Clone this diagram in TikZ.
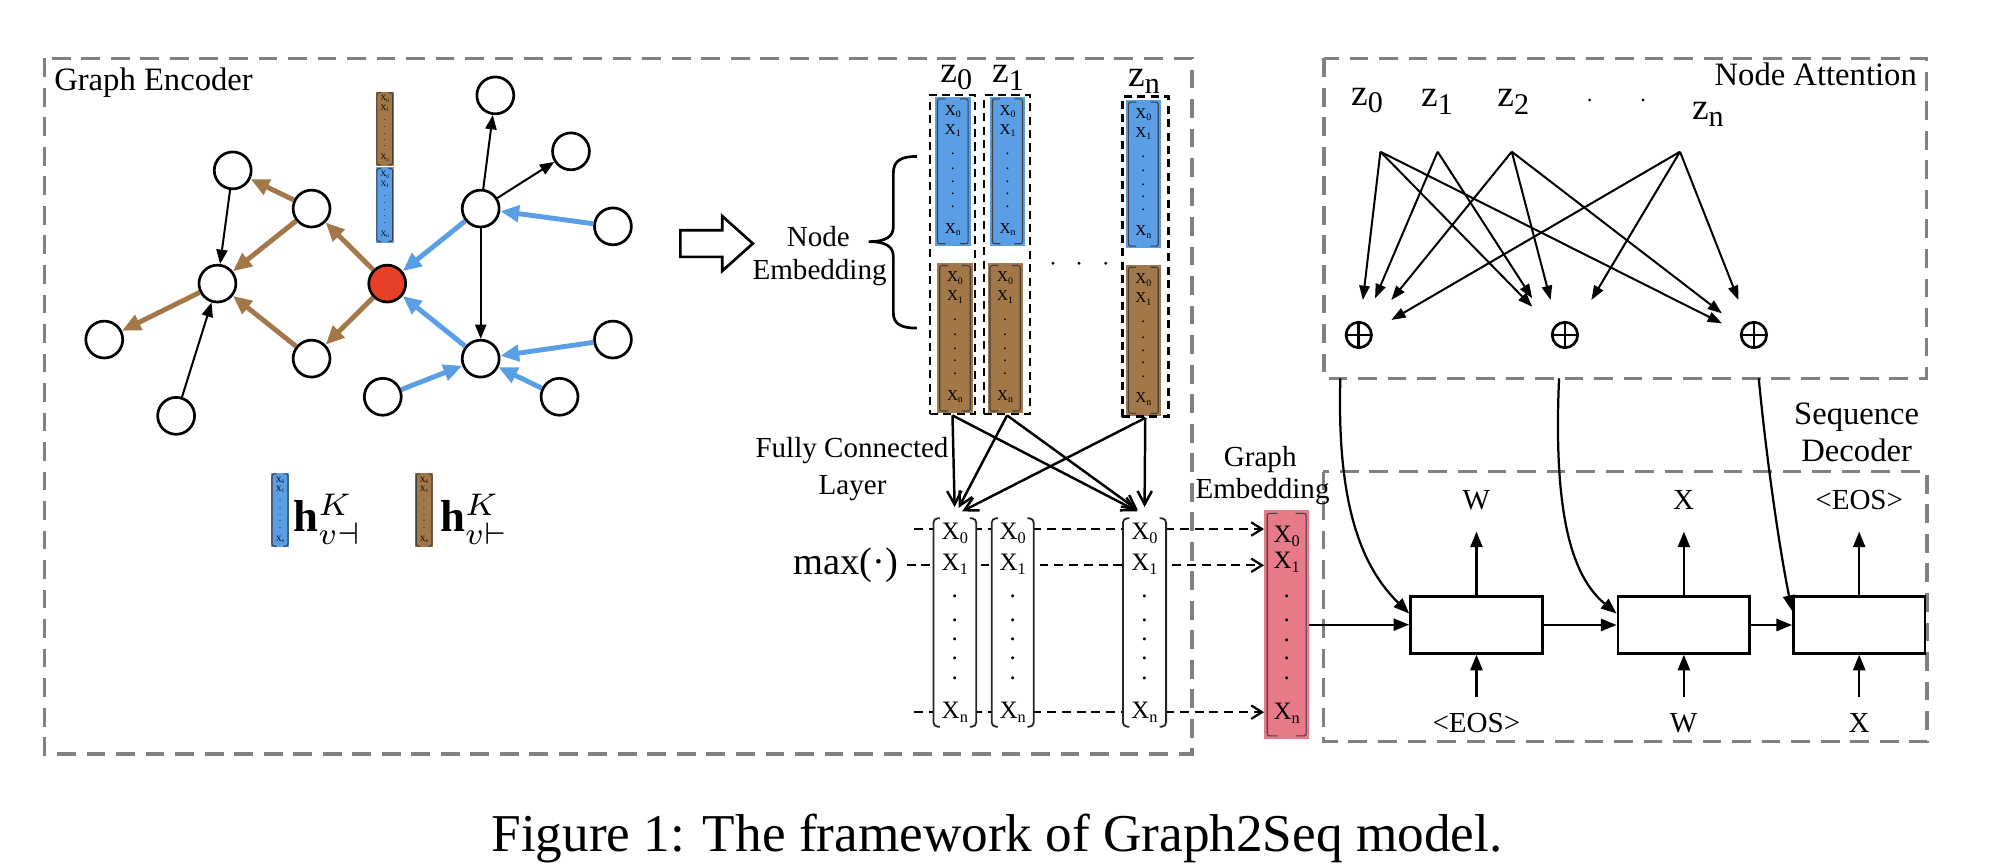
\documentclass[tikz,border=0pt]{standalone}
\usepackage{fontspec}
\setmainfont{Liberation Serif}
\usepackage{graphicx}
\usetikzlibrary{arrows.meta,calc,fit}

\definecolor{blueC}{RGB}{90,158,230}
\definecolor{brownC}{RGB}{163,120,72}
\definecolor{redC}{RGB}{232,64,38}
\definecolor{pinkC}{RGB}{230,123,135}
\definecolor{grayC}{RGB}{128,128,128}

\newcommand{\Xs}[1]{X\raisebox{-0.35ex}{\scalebox{0.65}{#1}}}
\newcommand{\zs}[1]{z\raisebox{-0.45ex}{\scalebox{0.8}{#1}}}
\newcommand{\brin}{0.07}
\newcommand{\brhook}{0.3}
\newcommand{\fracs}{0.1/0,0.225/1,0.89/n}
\newcommand{\dotfracs}{0.38,0.48,0.57,0.65,0.74}

\newcommand{\vecbar}[7]{%
  \node[fit={(#2,#3) (#4,#5)}, inner sep=0pt, outer sep=0pt, fill=#6] (#1) {};
  \pgfmathsetmacro\bw{#4-#2}%
  \pgfmathsetmacro\bh{#5-#3}%
  \pgfmathsetmacro\bx{(#2+#4)/2}%
  \draw[brk] ({#2+\brhook*\bw},{#3+0.015*\bh}) -- ({#2+\brin*\bw},{#3+0.015*\bh}) -- ({#2+\brin*\bw},{#5-0.015*\bh}) -- ({#2+\brhook*\bw},{#5-0.015*\bh});
  \draw[brk] ({#4-\brhook*\bw},{#3+0.015*\bh}) -- ({#4-\brin*\bw},{#3+0.015*\bh}) -- ({#4-\brin*\bw},{#5-0.015*\bh}) -- ({#4-\brhook*\bw},{#5-0.015*\bh});
  \foreach \f/\t in \fracs {\node[font=#7, inner sep=0pt] (#1-\t) at (\bx,{#3+\f*\bh}) {\Xs{\t}};}
  \foreach \f [count=\i] in \dotfracs {\node[font=#7, inner sep=0pt] (#1-d\i) at (\bx,{#3+\f*\bh}) {.};}
}

\begin{document}
\begin{tikzpicture}[x=0.01cm,y=-0.01cm,
  region/.style={draw=grayC, line width=0.75pt, dash pattern=on 4.2pt off 2.4pt},
  lbl/.style={font=\fontsize{7.3}{8}\selectfont, inner sep=0pt},
  sml/.style={font=\fontsize{6.5}{7}\selectfont, inner sep=0pt},
  zl/.style={font=\fontsize{8.4}{9}\selectfont, inner sep=0pt},
  gnode/.style={circle, draw, line width=0.6pt, minimum size=0.29cm, inner sep=0pt, fill=white},
  blk/.style={-{Triangle[length=3.2pt,width=2.5pt]}, line width=0.45pt},
  brn/.style={-{Triangle[length=4.2pt,width=3.6pt]}, draw=brownC, fill=brownC, line width=1.1pt},
  blu/.style={-{Triangle[length=4.2pt,width=3.6pt]}, draw=blueC, fill=blueC, line width=1.1pt},
  brk/.style={line width=0.25pt, draw=black!75, rounded corners=0.5pt},
  colbox/.style={draw, line width=0.6pt, dash pattern=on 1.8pt off 1.2pt, inner sep=0pt},
  fc/.style={-{Straight Barb[length=3pt,width=3.2pt]}, line width=0.55pt},
  dsh/.style={-{Straight Barb[length=2.4pt,width=3pt]}, line width=0.5pt, dash pattern=on 2pt off 1.3pt},
  dec/.style={-{Triangle[length=3.5pt,width=2.7pt]}, line width=0.5pt},
  att/.style={-{Triangle[length=3.2pt,width=2.3pt]}, line width=0.45pt},
  cell/.style={draw, line width=0.6pt, inner sep=0pt, fill=white},
  oplus/.style={circle, draw, line width=0.6pt, minimum size=0.2cm, inner sep=0pt,
    path picture={\draw[line width=0.6pt] (path picture bounding box.north) -- (path picture bounding box.south) (path picture bounding box.west) -- (path picture bounding box.east);}}
]
\useasboundingbox (0,0) rectangle (1568,681);

% ---------- regions ----------
\draw[region] (35,45.9) rectangle (937.2,593);
\draw[region] (1041,45.9) rectangle (1514.8,297.5);
\draw[region] (1040.6,370.9) rectangle (1515.3,583.2);

\node[lbl, anchor=base west] (tGE) at (42,70.8) {Graph Encoder};
\node[lbl, anchor=base east] (tNA) at (1508,67.6) {Node Attention};
\node[lbl, anchor=base] (tSeq) at (1460,334) {Sequence};
\node[lbl, anchor=base] (tDec) at (1460,363) {Decoder};

% ---------- graph ----------
\node[gnode] (gA) at (183,134) {};
\node[gnode] (gB) at (245,164) {};
\node[gnode] (gC) at (171,223) {};
\node[gnode] (gD) at (82,267) {};
\node[gnode] (gE) at (138.5,327) {};
\node[gnode] (gF) at (245,282) {};
\node[gnode, fill=redC] (gR) at (304.5,223) {};
\node[gnode] (gG) at (378,164) {};
\node[gnode] (gH) at (389.5,75) {};
\node[gnode] (gI) at (449,119) {};
\node[gnode] (gJ) at (482,178) {};
\node[gnode] (gK) at (378,282) {};
\node[gnode] (gL) at (482,267) {};
\node[gnode] (gM) at (440,312) {};
\node[gnode] (gN) at (301,312) {};

\draw[brn] (gB) -- (gA);
\draw[brn] (gB) -- (gC);
\draw[brn] (gR) -- (gB);
\draw[brn] (gR) -- (gF);
\draw[brn] (gF) -- (gC);
\draw[brn] (gC) -- (gD);
\draw[blk] (gA) -- (gC);
\draw[blk] (gE) -- (gC);
\draw[blk] (gG) -- (gH);
\draw[blk] (gG) -- (gI);
\draw[blk] (gG) -- (gK);
\draw[blu] (gJ) -- (gG);
\draw[blu] (gG) -- (gR);
\draw[blu] (gK) -- (gR);
\draw[blu] (gL) -- (gK);
\draw[blu] (gN) -- (gK);
\draw[blu] (gM) -- (gK);

\vecbar{gb1}{295.4}{72}{309.8}{130.5}{brownC}{\fontsize{1.8}{2}\selectfont}
\vecbar{gb2}{295.4}{131.6}{309.8}{190.8}{blueC}{\fontsize{1.8}{2}\selectfont}
\vecbar{lg1}{212.9}{371.7}{227.5}{430.4}{blueC}{\fontsize{1.8}{2}\selectfont}
\vecbar{lg2}{326.3}{371.7}{340.7}{430.4}{brownC}{\fontsize{1.8}{2}\selectfont}
\node[anchor=base west, font=\fontsize{10}{11}\selectfont, inner sep=0pt] (hl1) at (230,418) {$\mathbf{h}^{K}_{v\dashv}$};
\node[anchor=base west, font=\fontsize{10}{11}\selectfont, inner sep=0pt] (hl2) at (345.5,418) {$\mathbf{h}^{K}_{v\vdash}$};

% hollow arrow
\draw[line width=0.6pt, fill=white] (535,181) -- (568,181) -- (568,170) -- (592,191.5) -- (568,213) -- (568,202) -- (535,202) -- cycle;

\node[sml, anchor=base] (tNode) at (643.5,194) {Node};
\node[sml, anchor=base] (tEmb) at (644.5,219.6) {Embedding};
\draw[line width=0.6pt] (721,123) .. controls (709,123) and (702.5,126) .. (702.5,136) -- (702.5,178) .. controls (702.5,186) and (697,190) .. (683,190) .. controls (697,190) and (702.5,194) .. (702.5,202) -- (702.5,246) .. controls (702.5,255) and (709,258) .. (721,258);

% ---------- node embedding columns ----------
\vecbar{zb0}{735.2}{76}{763.3}{193.4}{blueC}{\fontsize{3.4}{4}\selectfont}
\vecbar{zr0}{737}{207}{764.9}{325}{brownC}{\fontsize{3.4}{4}\selectfont}
\vecbar{zb1}{778.5}{76}{806}{193.4}{blueC}{\fontsize{3.4}{4}\selectfont}
\vecbar{zr1}{776.6}{207}{804.2}{325}{brownC}{\fontsize{3.4}{4}\selectfont}
\vecbar{zbn}{885.4}{78.6}{912.7}{195.3}{blueC}{\fontsize{3.4}{4}\selectfont}
\vecbar{zrn}{885.4}{208.4}{912.7}{326.9}{brownC}{\fontsize{3.4}{4}\selectfont}
\node[colbox, fit={(731.3,74.7) (766.7,325.6)}] (zc0) {};
\node[colbox, fit={(773.8,74.7) (810,325.6)}] (zc1) {};
\node[colbox, fit={(882.5,76) (918.7,327.6)}] (zcn) {};
\node[zl] (lz0) at (752,61) {\zs{0}};
\node[zl] (lz1) at (792.7,61) {\zs{1}};
\node[zl] (lzn) at (899.6,64) {\zs{n}};
\fill (828,207) circle[radius=0.013cm];
\fill (848.5,207) circle[radius=0.013cm];
\fill (869.5,207) circle[radius=0.013cm];

% ---------- graph embedding ----------
\renewcommand{\fracs}{0.115/0,0.23/1,0.887/n}
\renewcommand{\dotfracs}{0.377,0.48,0.57,0.647,0.734}
\vecbar{pink}{994}{401}{1029.6}{581.4}{pinkC}{\fontsize{5.6}{6}\selectfont}
\node[sml, anchor=base] (tGr) at (991,367) {Graph};
\node[sml, anchor=base] (tGEm) at (992.8,391.9) {Embedding};

% ---------- max pooling ----------
\coordinate (s0) at (719,416);
\coordinate (s1) at (713,444.5);
\coordinate (sn) at (719,560);
\draw[dsh] (s0) -- (s0 -| pink.west);
\draw[dsh] (s1) -- (s1 -| pink.west);
\draw[dsh] (sn) -- (sn -| pink.west);
\renewcommand{\fracs}{0.085/0,0.23/1,0.92/n}
\renewcommand{\dotfracs}{0.38,0.49,0.58,0.667,0.76}
\renewcommand{\brin}{0.0}
\renewcommand{\brhook}{0.15}
\tikzset{brk/.style={line width=0.4pt, draw=black!85, rounded corners=1pt}}
\vecbar{mc1}{734}{405}{767.7}{574}{white}{\fontsize{5.6}{6}\selectfont}
\vecbar{mc2}{779.8}{405}{812.9}{574}{white}{\fontsize{5.6}{6}\selectfont}
\vecbar{mc3}{883}{405}{917}{574}{white}{\fontsize{5.6}{6}\selectfont}
\node[font=\fontsize{8.6}{9}\selectfont, anchor=base east, inner sep=0pt] (tmax) at (707,452) {max(·)};
\node[sml, anchor=base] (tFC1) at (670,359.5) {Fully Connected};
\node[sml, anchor=base] (tFC2) at (670.4,389.2) {Layer};

\draw[fc, shorten >=1.8pt] (zc0.south) -- (mc1.north);
\draw[fc, shorten >=1.8pt] (zc0.south) -- (mc3.north);
\draw[fc, shorten >=1.8pt] (zc1.south) -- (mc1.north);
\draw[fc, shorten >=1.8pt] (zc1.south) -- (mc3.north);
\draw[fc, shorten >=1.8pt] (zcn.south) -- (mc1.north);
\draw[fc, shorten >=1.8pt] (zcn.south) -- (mc3.north);

% ---------- node attention ----------
\node[zl] (nz0) at (1075,79) {\zs{0}};
\node[zl] (nz1) at (1130,80) {\zs{1}};
\node[zl] (nz2) at (1190,80) {\zs{2}};
\node[zl] (nzn) at (1343,90) {\zs{n}};
\fill (1250,78.6) circle[radius=0.012cm];
\fill (1292,78.6) circle[radius=0.012cm];
\coordinate (a0) at (1085.5,119.3);
\coordinate (a1) at (1130.5,119.3);
\coordinate (a2) at (1188.8,119.3);
\coordinate (an) at (1321.1,119.3);
\coordinate (t1) at (1071.7,235.9);
\coordinate (t2) at (1081.3,234.6);
\coordinate (t3) at (1094.1,235.9);
\coordinate (t4) at (1094.1,251.6);
\coordinate (t5) at (1204.9,241.2);
\coordinate (t6) at (1204.9,234.6);
\coordinate (t7) at (1219.3,235.9);
\coordinate (t8) at (1251.4,235.9);
\coordinate (t9) at (1354.1,254.3);
\coordinate (t10) at (1354.1,246.4);
\coordinate (t11) at (1367,235.9);
\draw[att] (a0) -- (t1);
\draw[att] (a0) -- (t5);
\draw[att] (a0) -- (t9);
\draw[att] (a1) -- (t2);
\draw[att] (a1) -- (t6);
\draw[att] (a2) -- (t3);
\draw[att] (a2) -- (t7);
\draw[att] (a2) -- (t10);
\draw[att] (an) -- (t4);
\draw[att] (an) -- (t8);
\draw[att] (an) -- (t11);
\node[oplus] (op1) at (1068.5,263.4) {};
\node[oplus] (op2) at (1230.6,263.4) {};
\node[oplus] (op3) at (1379.2,263.4) {};

% ---------- decoder ----------
\node[cell, fit={(1109.2,469.2) (1212.9,513.7)}] (cell1) {};
\node[cell, fit={(1272.3,469.2) (1376,513.7)}] (cell2) {};
\node[cell, fit={(1410.3,469.2) (1513.7,513.7)}] (cell3) {};
\draw[dec] (pink.east) -- (pink.east -| cell1.west);
\draw[dec] (cell1.east) -- (cell2.west);
\draw[dec] (cell2.east) -- (cell3.west);

\coordinate (yout) at (0,418);
\coordinate (yin) at (0,547.8);
\coordinate (o1) at (cell1.north |- yout);
\coordinate (o2) at (cell2.north |- yout);
\coordinate (o3) at (cell3.north |- yout);
\coordinate (i1) at (cell1.south |- yin);
\coordinate (i2) at (cell2.south |- yin);
\coordinate (i3) at (cell3.south |- yin);
\draw[dec] (cell1.north) -- (o1);
\draw[dec] (cell2.north) -- (o2);
\draw[dec] (cell3.north) -- (o3);
\draw[dec] (i1) -- (cell1.south);
\draw[dec] (i2) -- (cell2.south);
\draw[dec] (i3) -- (cell3.south);
\node[sml] (ow) at (1161,393) {W};
\node[sml] (ox) at (1324,393) {X};
\node[sml] (oe) at (1462,393) {\textless EOS\textgreater};
\node[sml] (ie) at (1161,568.8) {\textless EOS\textgreater};
\node[sml] (iw) at (1324,568.8) {W};
\node[sml] (ix) at (1462,568.8) {X};

\coordinate (c1) at (1054,297.5);
\coordinate (c2) at (1226,297.5);
\coordinate (c3) at (1383,297.5);
\coordinate (e1) at ([yshift=0.09cm]cell1.west);
\coordinate (e2) at ([yshift=0.09cm]cell2.west);
\coordinate (e3) at ([yshift=0.11cm]cell3.west);
\draw[dec] (c1) .. controls (1051,400) and (1072,447) .. (e1);
\draw[dec] (c2) .. controls (1221,410) and (1238,455) .. (e2);
\draw[dec] (c3) .. controls (1389,360) and (1399,430) .. (e3);

% ---------- caption ----------
\node[font=\fontsize{11.9}{14}\selectfont, anchor=base, inner sep=0pt] (caption) at (784,669.7) {Figure 1: The framework of Graph2Seq model.};
\end{tikzpicture}
\end{document}
